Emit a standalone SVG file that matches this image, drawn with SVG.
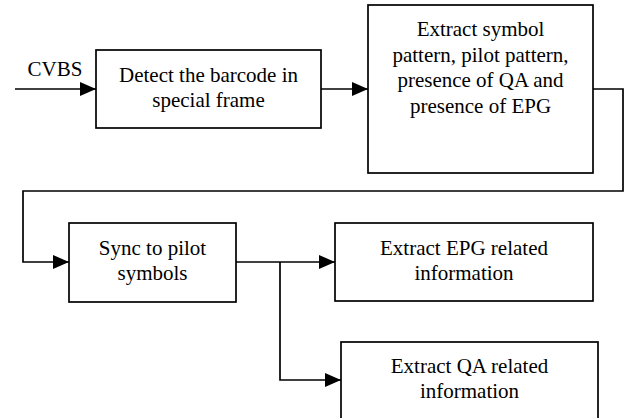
<svg xmlns="http://www.w3.org/2000/svg" width="626" height="418" viewBox="0 0 626 418">
<defs>
<style>
.box{fill:#fff;stroke:#000;stroke-width:1.7}
.ln{fill:none;stroke:#000;stroke-width:1.7;marker-end:url(#ah)}
.ln2{fill:none;stroke:#000;stroke-width:1.7}
text{font-family:"Liberation Serif","Times New Roman",serif;font-size:21px;fill:#000;text-anchor:middle}
</style>
<marker id="ah" viewBox="0 0 16 14" refX="16" refY="7" markerWidth="16" markerHeight="14" markerUnits="userSpaceOnUse" orient="auto">
<path d="M0,0 L16,7 L0,14 Z" fill="#000"/>
</marker>
</defs>
<rect width="626" height="418" fill="#fff"/>
<g id="connectors">
<path class="ln" d="M15,89 H96"/>
<path class="ln" d="M321,89 H368"/>
<path class="ln" d="M593,89 H623 V191 H23 V262 H69"/>
<path class="ln" d="M236,262 H335"/>
<path class="ln" d="M280,262 V380 H341"/>
</g>
<text x="55" y="76">CVBS</text>
<g id="detect">
<rect class="box" x="96" y="50" width="225" height="78"/>
<text x="208.5" y="82">Detect the barcode in</text>
<text x="208.5" y="107">special frame</text>
</g>
<g id="extract">
<rect class="box" x="368" y="5" width="225" height="168"/>
<text x="480.5" y="36">Extract symbol</text>
<text x="480.5" y="61.5">pattern, pilot pattern,</text>
<text x="480.5" y="87">presence of QA and</text>
<text x="480.5" y="112.5">presence of EPG</text>
</g>
<g id="sync">
<rect class="box" x="69" y="223" width="167" height="79"/>
<text x="152.5" y="255">Sync to pilot</text>
<text x="152.5" y="280">symbols</text>
</g>
<g id="epg">
<rect class="box" x="335" y="223" width="258" height="78"/>
<text x="464" y="255">Extract EPG related</text>
<text x="464" y="280">information</text>
</g>
<g id="qa">
<rect class="box" x="341" y="342" width="257" height="90"/>
<text x="469.5" y="373">Extract QA related</text>
<text x="469.5" y="398">information</text>
</g>
</svg>
